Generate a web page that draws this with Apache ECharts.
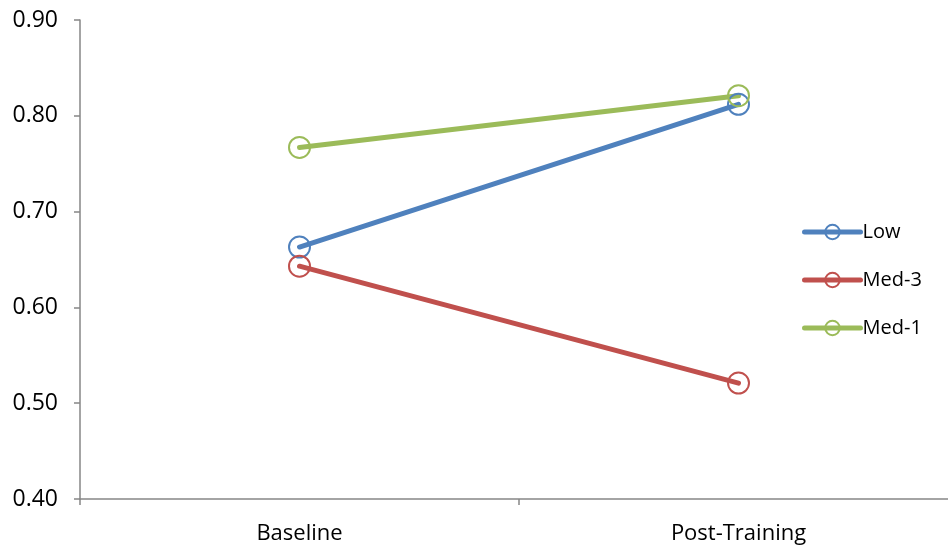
<!DOCTYPE html>
<html>
<head>
<meta charset="utf-8">
<script src="https://cdn.jsdelivr.net/npm/echarts@6/dist/echarts.min.js"></script>
<style>
  html, body { margin: 0; padding: 0; background: #fff; overflow: hidden; }
  /* the plot runs slightly past the right edge of the window */
  #chart { width: 958px; height: 549px; }
</style>
</head>
<body>
<div id="chart"></div>
<script>
// Time points and mean scores per training group
const categories = ['Baseline', 'Post-Training'];
const lowValues = [0.663, 0.812];
const med3Values = [0.643, 0.521];
const med1Values = [0.767, 0.821];
const seriesNames = ['Low', 'Med-3', 'Med-1'];
const seriesColors = ['#4F81BD', '#C0504D', '#9BBB59'];

const FONT = '"Open Sans", sans-serif';
const AXIS_COLOR = '#868686';

function lineSeries(name, values, color) {
  return {
    name: name,
    type: 'line',
    data: values,
    symbol: 'circle',
    symbolSize: 21,
    showAllSymbol: true,
    clip: false,
    lineStyle: { color: color, width: 5, cap: 'round' },
    itemStyle: { color: 'rgba(255,255,255,0)', borderColor: color, borderWidth: 2 },
    emphasis: { disabled: true },
    animation: false
  };
}

const chart = echarts.init(document.getElementById('chart'), null, { renderer: 'canvas' });
chart.setOption({
  backgroundColor: '#ffffff',
  animation: false,
  grid: { left: 80, top: 20, right: 0, bottom: 50, containLabel: false },
  legend: {
    orient: 'vertical',
    left: 797,
    top: 217,
    itemWidth: 56,
    itemHeight: 18,
    itemGap: 28,
    lineStyle: { width: 5, cap: 'round' },
    textStyle: { fontFamily: FONT, fontSize: 20, color: '#000', padding: [0, 0, 0, -3] },
    data: seriesNames
  },
  xAxis: {
    type: 'category',
    data: categories,
    boundaryGap: true,
    axisLine: { lineStyle: { color: AXIS_COLOR, width: 1.5 } },
    axisTick: { show: true, length: 6, inside: false, lineStyle: { color: AXIS_COLOR, width: 1.5 } },
    axisLabel: { fontFamily: FONT, fontSize: 22, color: '#000', margin: 24 },
    splitLine: { show: false }
  },
  yAxis: {
    type: 'value',
    min: 0.4,
    max: 0.9,
    interval: 0.1,
    axisLine: { show: true, lineStyle: { color: AXIS_COLOR, width: 1.5 } },
    axisTick: { show: true, length: 6, lineStyle: { color: AXIS_COLOR, width: 1.5 } },
    axisLabel: {
      fontFamily: FONT, fontSize: 23, color: '#000', margin: 22,
      formatter: v => v.toFixed(2)
    },
    splitLine: { show: false }
  },
  series: [
    lineSeries(seriesNames[0], lowValues, seriesColors[0]),
    lineSeries(seriesNames[1], med3Values, seriesColors[1]),
    lineSeries(seriesNames[2], med1Values, seriesColors[2])
  ]
});
</script>
</body>
</html>
